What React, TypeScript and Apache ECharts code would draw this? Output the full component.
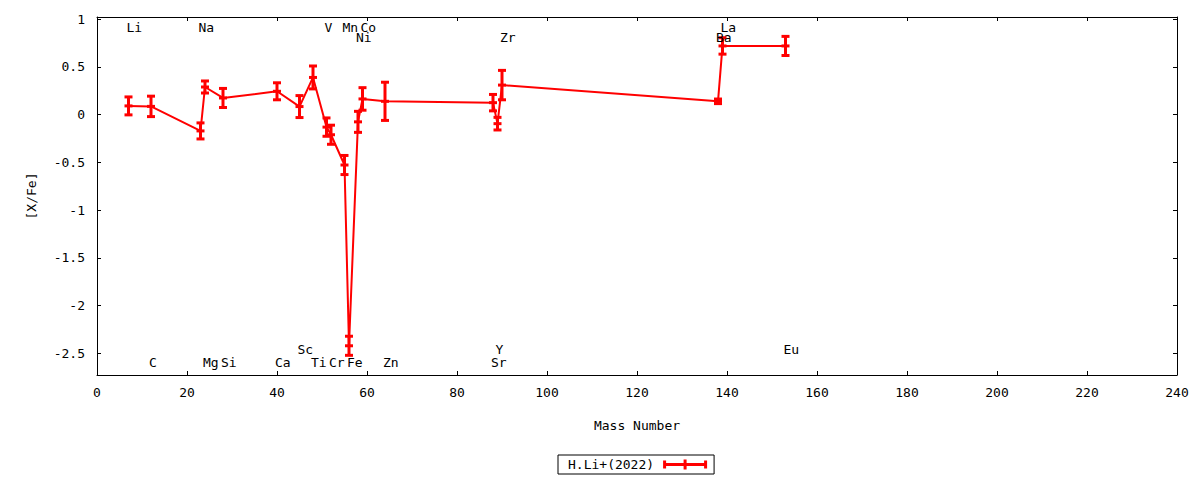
import React, { useEffect, useRef } from "react";
import * as echarts from "echarts";

// ---- data ----
const massNumbers = [7, 12, 23, 24, 28, 40, 45, 48, 51, 52, 55, 56, 58, 59, 64, 88, 89, 90, 138, 139, 153];
const abundances = [0.092, 0.087, -0.17, 0.29, 0.175, 0.245, 0.085, 0.39, -0.13, -0.21, -0.527, -2.42, -0.075, 0.165, 0.14, 0.126, -0.094, 0.31, 0.14, 0.72, 0.72];
const errors = [0.094, 0.107, 0.084, 0.063, 0.1, 0.089, 0.115, 0.12, 0.096, 0.1, 0.1, 0.1, 0.11, 0.118, 0.2, 0.086, 0.066, 0.154, 0.024, 0.086, 0.1];

const elementNames = ["Li", "C", "Na", "Mg", "Si", "Ca", "Sc", "Ti", "V", "Cr", "Mn", "Fe", "Ni", "Co", "Zn", "Sr", "Y", "Zr", "Ba", "La", "Eu"];
const elementMass = [7, 12, 23, 24, 28, 40, 45, 48, 51, 52, 55, 56, 58, 59, 64, 88, 89, 90, 138, 139, 153];
const elementLabelY = [0.915, -2.6, 0.915, -2.6, -2.6, -2.6, -2.455, -2.6, 0.915, -2.6, 0.915, -2.6, 0.81, 0.915, -2.6, -2.6, -2.455, 0.81, 0.81, 0.915, -2.455];

const yTickValues = [-2.5, -2, -1.5, -1, -0.5, 0, 0.5, 1];
const seriesName = "H.Li+(2022)";
const xAxisName = "Mass Number";
const yAxisName = "[X/Fe]";

const FONT = '"DejaVu Sans Mono", "Liberation Mono", monospace';
const RED = "#ff0000";

export default function App() {
  const ref = useRef<HTMLDivElement>(null);

  useEffect(() => {
    if (!ref.current) return;
    const chart = echarts.init(ref.current, undefined, { renderer: "svg" });

    const errData = massNumbers.map((m, i) => [m, abundances[i], errors[i]]);
    const lineData = massNumbers.map((m, i) => [m, abundances[i]]);
    const labelData = elementNames.map((n, i) => [elementMass[i], elementLabelY[i], n]);

    const axisCommon = {
      axisLine: { show: true, onZero: false, lineStyle: { color: "#000", width: 1 } },
      splitLine: { show: false },
    };

    const option: any = {
      animation: false,
      backgroundColor: "#ffffff",
      grid: { left: 97, right: 23, top: 17, bottom: 105 },
      legend: {
        left: 558,
        top: 455,
        orient: "horizontal",
        align: "right",
        padding: [3, 7, 3, 10],
        borderColor: "#000",
        borderWidth: 1,
        borderRadius: 0,
        itemWidth: 44,
        itemHeight: 10,
        itemGap: 0,
        selectedMode: false,
        textStyle: { fontFamily: FONT, fontSize: 13, color: "#000", padding: [0, 4, 0, 0] },
        itemStyle: { borderWidth: 0 },
        data: [
          {
            name: seriesName,
            icon: "path://M0,1h3v8h-3zM41,1h3v8h-3zM20.5,0h3v10h-3zM0,3.5h44v3h-44z",
          },
        ],
      },
      xAxis: [
        {
          type: "value",
          position: "bottom",
          min: 0,
          max: 240,
          interval: 20,
          ...axisCommon,
          axisTick: { show: true, inside: true, length: 4, lineStyle: { color: "#000" } },
          axisLabel: { margin: 11, color: "#000", fontFamily: FONT, fontSize: 13 },
          name: xAxisName,
          nameLocation: "middle",
          nameGap: 44,
          nameTextStyle: { color: "#000", fontFamily: FONT, fontSize: 13 },
        },
        {
          type: "value",
          position: "top",
          min: 0,
          max: 240,
          interval: 20,
          ...axisCommon,
          axisTick: { show: true, inside: true, length: 4, lineStyle: { color: "#000" } },
          axisLabel: { show: false },
        },
      ],
      yAxis: [
        {
          type: "value",
          position: "left",
          min: -2.726,
          max: 1.023,
          ...axisCommon,
          axisTick: { show: true, inside: true, length: 4, customValues: yTickValues, lineStyle: { color: "#000" } },
          axisLabel: { customValues: yTickValues, margin: 12, color: "#000", fontFamily: FONT, fontSize: 13 },
          name: yAxisName,
          nameLocation: "middle",
          nameGap: 59,
          nameTextStyle: { color: "#000", fontFamily: FONT, fontSize: 13 },
        },
        {
          type: "value",
          position: "right",
          min: -2.726,
          max: 1.023,
          ...axisCommon,
          axisTick: { show: true, inside: true, length: 4, customValues: yTickValues, lineStyle: { color: "#000" } },
          axisLabel: { show: false },
        },
      ],
      series: [
        {
          type: "line",
          name: seriesName,
          data: lineData,
          symbol: "none",
          lineStyle: { color: RED, width: 2 },
          itemStyle: { color: RED },
          z: 2,
        },
        {
          type: "custom",
          name: seriesName,
          data: errData,
          encode: { x: 0, y: 1 },
          z: 3,
          itemStyle: { color: RED },
          renderItem: (params: any, api: any) => {
            const x = api.value(0);
            const v = api.value(1);
            const e = api.value(2);
            const c = api.coord([x, v]);
            const t = api.coord([x, v + e]);
            const b = api.coord([x, v - e]);
            const hw = 4;
            const style = { stroke: RED, lineWidth: 3 };
            return {
              type: "group",
              children: [
                { type: "line", shape: { x1: c[0], y1: t[1], x2: c[0], y2: b[1] }, style },
                { type: "line", shape: { x1: c[0] - hw, y1: t[1], x2: c[0] + hw, y2: t[1] }, style },
                { type: "line", shape: { x1: c[0] - hw, y1: b[1], x2: c[0] + hw, y2: b[1] }, style },
                { type: "line", shape: { x1: c[0] - hw, y1: c[1], x2: c[0] + hw, y2: c[1] }, style },
              ],
            };
          },
        },
        {
          type: "custom",
          name: "element labels",
          data: labelData,
          encode: { x: 0, y: 1 },
          z: 4,
          silent: true,
          renderItem: (params: any, api: any) => {
            const idx = params.dataIndex;
            const p = api.coord([elementMass[idx], elementLabelY[idx]]);
            return {
              type: "text",
              x: p[0] - 2,
              y: p[1],
              style: {
                text: elementNames[idx],
                fill: "#000",
                font: `13px ${FONT}`,
                textAlign: "left",
                textVerticalAlign: "middle",
              },
            };
          },
        },
      ],
    };

    chart.setOption(option);
    return () => {
      chart.dispose();
    };
  }, []);

  return (
    <div
      ref={ref}
      style={{ position: "fixed", left: 0, top: 0, width: 1200, height: 480, background: "#fff" }}
    />
  );
}
